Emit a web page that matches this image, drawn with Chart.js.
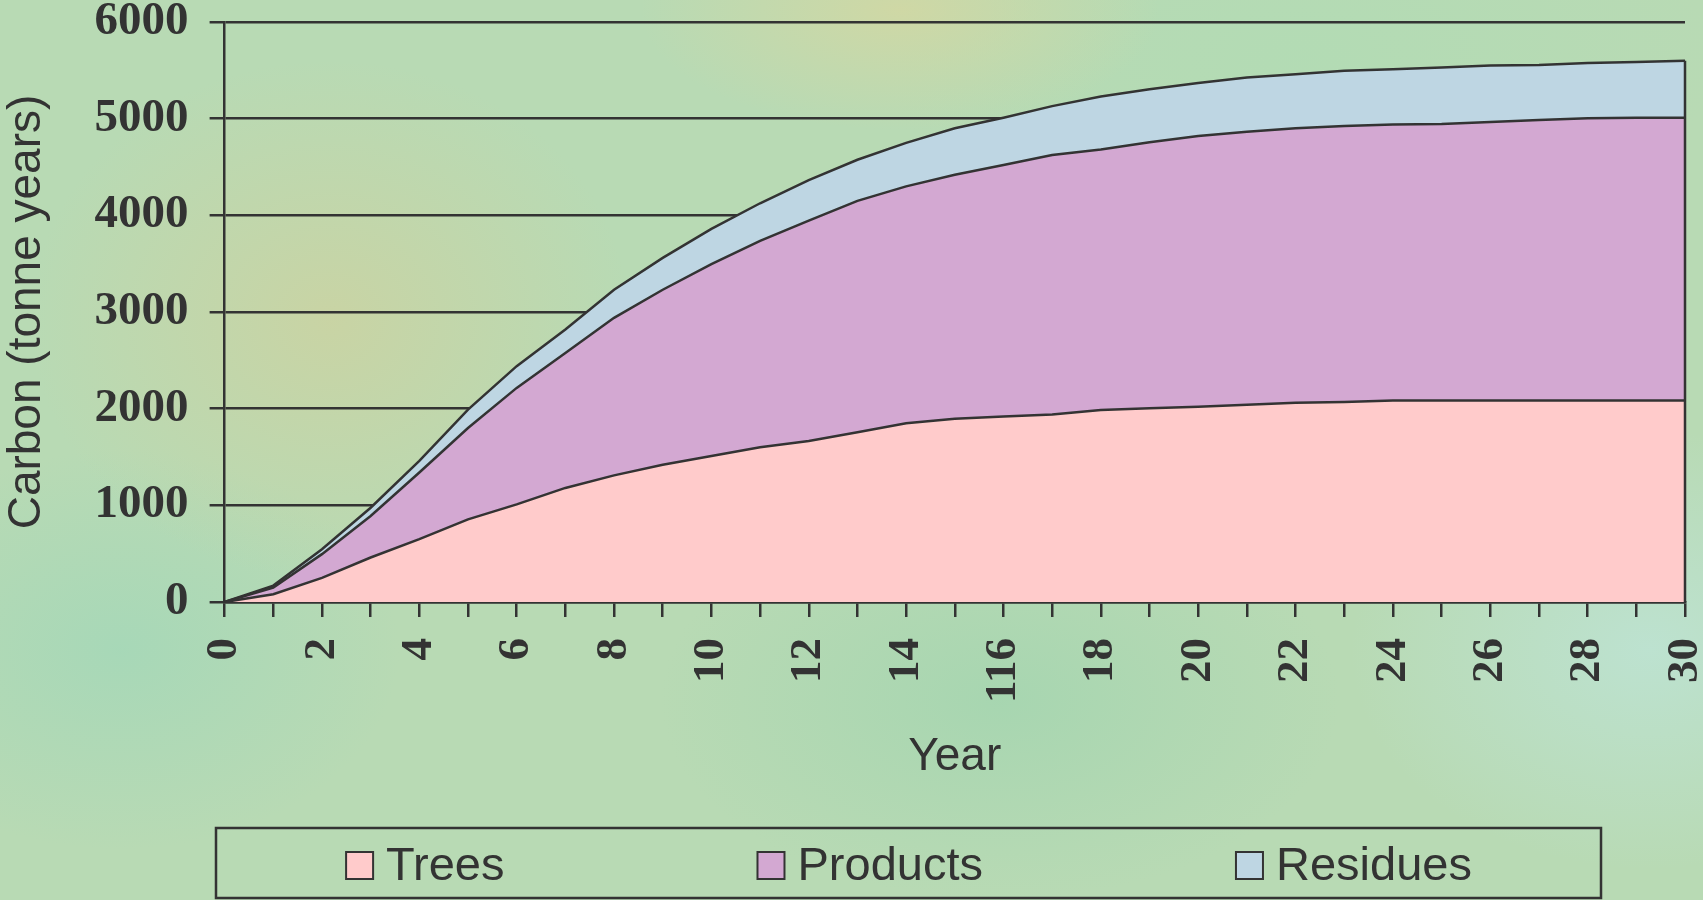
<!DOCTYPE html>
<html>
<head>
<meta charset="utf-8">
<script src="https://cdn.jsdelivr.net/npm/chart.js@4.4.1/dist/chart.umd.min.js"></script>
<style>
  html, body { margin: 0; padding: 0; }
  body {
    width: 1703px; height: 900px; overflow: hidden;
    background-color: #b8dab4;
    background-image:
      radial-gradient(ellipse 260px 120px at 900px 10px, rgba(215,215,160,0.75), rgba(215,215,160,0) 100%),
      radial-gradient(ellipse 300px 260px at 330px 320px, rgba(205,210,160,0.8), rgba(205,210,160,0) 100%),
      radial-gradient(ellipse 280px 200px at 120px 650px, rgba(160,215,185,0.7), rgba(160,215,185,0) 100%),
      radial-gradient(ellipse 340px 200px at 1000px 700px, rgba(160,212,175,0.7), rgba(160,212,175,0) 100%),
      radial-gradient(ellipse 300px 220px at 1650px 650px, rgba(190,228,215,0.8), rgba(190,228,215,0) 100%),
      radial-gradient(ellipse 420px 200px at 1300px 60px, rgba(175,220,180,0.6), rgba(175,220,180,0) 100%);
  }
  #wrap { position: absolute; left: 0; top: 0; width: 1703px; height: 900px; }
</style>
</head>
<body>
<div id="wrap"><canvas id="myChart"></canvas></div>
<script>
// data
var years = [0, 1, 2, 3, 4, 5, 6, 7, 8, 9, 10, 11, 12, 13, 14, 15, 16, 17, 18, 19, 20, 21, 22, 23, 24, 25, 26, 27, 28, 29, 30]
var xTickLabels = ['0', '', '2', '', '4', '', '6', '', '8', '', '10', '', '12', '', '14', '', '116', '', '18', '', '20', '', '22', '', '24', '', '26', '', '28', '', '30']
var trees = [0, 80, 250, 460, 650, 855, 1010, 1180, 1310, 1420, 1510, 1600, 1665, 1755, 1850, 1895, 1920, 1940, 1985, 2005, 2020, 2040, 2060, 2070, 2085, 2085, 2085, 2085, 2085, 2085, 2085]
var products = [0, 70, 245, 430, 690, 945, 1205, 1395, 1630, 1810, 1985, 2135, 2280, 2395, 2450, 2525, 2600, 2685, 2695, 2750, 2800, 2825, 2840, 2855, 2855, 2860, 2880, 2900, 2920, 2925, 2925]
var residues = [0, 20, 50, 85, 120, 190, 225, 245, 290, 330, 365, 390, 420, 425, 450, 480, 490, 505, 550, 550, 550, 560, 560, 570, 570, 585, 585, 570, 570, 575, 590]
var seriesNames = ['Trees', 'Products', 'Residues']
var yTitle = 'Carbon (tonne years)'
var xTitle = 'Year'

var ink = '#333333'

// Excel closes the area on the right with a vertical edge
var rightEdge = {
    id: 'rightEdge',
    afterDatasetsDraw(chart) {
        var xs = chart.scales.x, ys = chart.scales.y
        var last = years.length - 1
        var total = trees[last] + products[last] + residues[last]
        var ctx = chart.ctx
        ctx.save()
        ctx.strokeStyle = ink
        ctx.lineWidth = 2.5
        ctx.beginPath()
        ctx.moveTo(xs.getPixelForValue(years[last]), ys.getPixelForValue(0))
        ctx.lineTo(xs.getPixelForValue(years[last]), ys.getPixelForValue(total))
        ctx.stroke()
        ctx.restore()
    }
}

// boxed legend with wide gaps between items
var boxedLegend = {
    id: 'boxedLegend',
    afterDraw(chart) {
        var ctx = chart.ctx
        var font = '47px "Liberation Sans", Arial, sans-serif'
        var box = 27, gapText = 13, gapItem = 253
        ctx.save()
        ctx.font = font
        var items = chart.data.datasets.map(ds => ({ text: ds.label, color: ds.backgroundColor, w: box + gapText + ctx.measureText(ds.label).width }))
        var total = items.reduce((s, it) => s + it.w, 0) + gapItem * (items.length - 1)
        var x = 909 - total / 2
        ctx.strokeStyle = ink
        ctx.lineWidth = 2.5
        ctx.strokeRect(216, 828, 1385, 70)
        ctx.lineWidth = 2
        items.forEach(it => {
            ctx.fillStyle = it.color
            ctx.fillRect(x, 852, box, box)
            ctx.strokeRect(x, 852, box, box)
            ctx.fillStyle = ink
            ctx.textBaseline = 'alphabetic'
            ctx.fillText(it.text, x + box + gapText, 880)
            x += it.w + gapItem
        })
        ctx.restore()
    }
}

var ctx = document.getElementById('myChart').getContext('2d')
new Chart(ctx, {
    type: 'line',
    data: {
        labels: years,
        datasets: [
            { label: seriesNames[0], data: trees, backgroundColor: '#FFCBCB', borderColor: ink, borderWidth: 2.5, fill: 'origin' },
            { label: seriesNames[1], data: products, backgroundColor: '#D3A8D2', borderColor: ink, borderWidth: 2.5, fill: '-1' },
            { label: seriesNames[2], data: residues, backgroundColor: '#BED6E3', borderColor: ink, borderWidth: 2.5, fill: '-1' }
        ]
    },
    options: {
        responsive: true,
        maintainAspectRatio: false,
        animation: false,
        elements: { point: { radius: 0 }, line: { tension: 0 } },
        layout: { padding: { top: 22, right: 18, bottom: 115, left: 0 } },
        plugins: {
            legend: { display: false },
            tooltip: { enabled: false }
        },
        scales: {
            x: {
                type: 'linear',
                min: 0,
                max: 30,
                afterFit: s => { s.height = 183; s.paddingLeft = 0; s.paddingRight = 0 },
                grid: { drawOnChartArea: false, color: ink, lineWidth: 2.5, tickLength: 15 },
                border: { color: ink, width: 2.5 },
                ticks: {
                    stepSize: 1,
                    autoSkip: false,
                    minRotation: 90,
                    maxRotation: 90,
                    padding: 21,
                    color: ink,
                    font: { family: '"Liberation Serif", "Times New Roman", serif', size: 45, weight: 'bold' },
                    callback: v => { var i = years.indexOf(v); return i < 0 ? null : xTickLabels[i] }
                },
                title: {
                    display: true,
                    text: xTitle,
                    color: ink,
                    padding: 0,
                    font: { family: '"Liberation Sans", Arial, sans-serif', size: 46 }
                }
            },
            y: {
                stacked: true,
                min: 0,
                max: 6000,
                afterFit: s => { s.width = 224.6; s.paddingTop = 0; s.paddingBottom = 0 },
                grid: { color: ink, lineWidth: 2.5, tickLength: 15 },
                border: { color: ink, width: 2.5 },
                ticks: {
                    stepSize: 1000,
                    padding: 21,
                    color: ink,
                    font: { family: '"Liberation Serif", "Times New Roman", serif', size: 47, weight: 'bold' },
                    callback: v => String(v)
                },
                title: {
                    display: true,
                    text: yTitle,
                    color: ink,
                    padding: 0,
                    font: { family: '"Liberation Sans", Arial, sans-serif', size: 46 }
                }
            }
        }
    },
    plugins: [rightEdge, boxedLegend]
});
</script>
</body>
</html>
